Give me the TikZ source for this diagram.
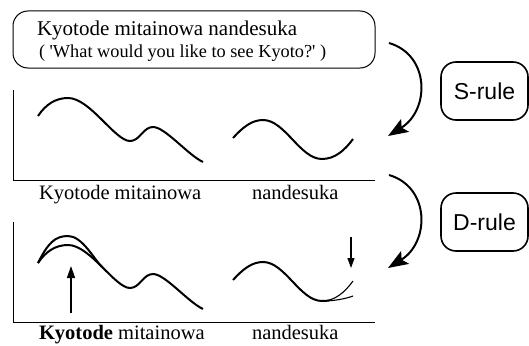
\documentclass[tikz,border=0pt]{standalone}
\usepackage{fontspec}
\setmainfont{Liberation Serif}
\newfontfamily\rulefont{Liberation Sans}
\usetikzlibrary{arrows.meta}
\tikzset{
  wave/.style={line width=2pt},
  thinwave/.style={line width=1.1pt},
  axis/.style={line width=0.9pt},
  txt/.style={anchor=base west, inner sep=0pt, outer sep=0pt},
  bigtxt/.style={txt, font=\fontsize{21}{25}\selectfont},
  smalltxt/.style={txt, font=\fontsize{18.3}{22}\selectfont},
  labtxt/.style={txt, font=\fontsize{20.5}{24}\selectfont},
  rulebox/.style={draw, line width=1.6pt, rounded corners=15pt, minimum width=87pt, minimum height=58pt, inner sep=0pt, font=\rulefont\fontsize{23}{27}\selectfont},
  bendarrow/.style={line width=2pt, -{Stealth[length=20pt,width=15pt,inset=4pt]}},
  straightarrow/.style={line width=1.4pt, -{Triangle[length=12pt,width=8pt]}},
  smallarrow/.style={line width=1.1pt, -{Triangle[length=10pt,width=7pt]}}
}
\begin{document}
\begin{tikzpicture}[x=1pt,y=-1pt]
\useasboundingbox (0,0) rectangle (529,345);

% top box
\node[draw, line width=1pt, rounded corners=15pt, minimum width=362pt, minimum height=57pt, inner sep=0pt] (topbox) at (194,39.5) {};
\node[bigtxt] (line1) at (37,35) {Kyotode mitainowa nandesuka};
\node[smalltxt] (line2) at (39,57) {( \textquotesingle What would you like to see Kyoto?\textquotesingle\ )};

% rule boxes
\node[rulebox] (srule) at (484.5,91) {S-rule};
\node[rulebox] (drule) at (484.5,222) {D-rule};

% bend arrows
\coordinate (sA) at (389,43);
\coordinate (sB) at (388,136);
\coordinate (dA) at (389,175);
\coordinate (dB) at (388,268);
\draw[bendarrow] (sA) .. controls (430,55) and (430,110) .. (sB);
\draw[bendarrow] (dA) .. controls (430,187) and (430,242) .. (dB);

% upper panel axes
\coordinate (uTop) at (13,90);
\coordinate (uOrig) at (13,180);
\coordinate (uEnd) at (375,180);
\draw[axis] (uTop) -- (uOrig) -- (uEnd);

% upper curve 1
\draw[wave] (38,116) .. controls (46,104) and (56,98) .. (68,98)
  .. controls (90,98) and (115,141) .. (130,141)
  .. controls (140,141) and (143,127) .. (153,127)
  .. controls (165,127) and (188,155) .. (203,162);
% upper curve 2
\draw[wave] (233,138) .. controls (243,127) and (252,120) .. (263,120)
  .. controls (285,120) and (300,159) .. (322,159)
  .. controls (335,159) and (345,150) .. (353,139);

\node[labtxt] (lab1) at (39,199) {Kyotode mitainowa};
\node[labtxt] (lab2) at (252,199) {nandesuka};

% lower panel axes
\coordinate (lTop) at (13,222);
\coordinate (lOrig) at (13,322);
\coordinate (lEnd) at (375,322);
\draw[axis] (lTop) -- (lOrig) -- (lEnd);

% lower curve 1 (base and raised peak)
\draw[wave] (38,263) .. controls (46,251) and (56,245) .. (68,245)
  .. controls (90,245) and (115,288) .. (130,288)
  .. controls (140,288) and (143,274) .. (153,274)
  .. controls (165,274) and (188,302) .. (203,309);
\draw[wave] (38,263) .. controls (48,243) and (55,236) .. (68,236)
  .. controls (82,236) and (93.6,258.5) .. (101.6,266.5);

% lower curve 2 with split ending
\draw[wave] (233,280) .. controls (243,269) and (252,262) .. (263,262)
  .. controls (285,262) and (300,301) .. (322,301)
  .. controls (325,301) and (327,300.8) .. (329,300.5);
\draw[thinwave] (322,301) .. controls (335,301) and (345,292) .. (353,281);
\draw[thinwave] (326,301) .. controls (335,300.5) and (345,299) .. (353,296);

% arrows in lower panel
\coordinate (upFrom) at (71,313);
\coordinate (upTo) at (71,266);
\draw[straightarrow] (upFrom) -- (upTo);
\coordinate (dnFrom) at (351,237);
\coordinate (dnTo) at (351,268);
\draw[smallarrow] (dnFrom) -- (dnTo);

\node[labtxt] (lab3) at (39,339) {\textbf{Kyotode} mitainowa};
\node[labtxt] (lab4) at (252,339) {nandesuka};
\end{tikzpicture}
\end{document}
